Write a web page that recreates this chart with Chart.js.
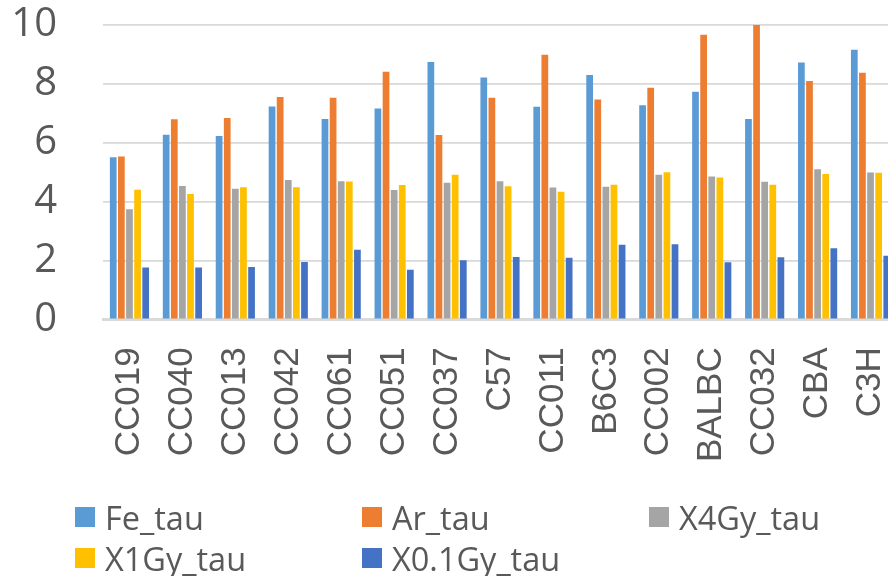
<!DOCTYPE html>
<html>
<head>
<meta charset="utf-8">
<script src="https://cdn.jsdelivr.net/npm/chart.js@4.4.0/dist/chart.umd.min.js"></script>
<style>
  html, body { margin: 0; padding: 0; overflow: hidden; background: #fff; width: 888px; height: 576px; }
  #wrap { position: absolute; left: 0; top: 0; width: 897px; height: 480px; }
  #leyenda { position: absolute; left: 0; top: 0; width: 888px; height: 576px; pointer-events: none;
             font-family: 'Open Sans', sans-serif; font-size: 32.5px; color: #595959; }
  .item { position: absolute; display: flex; align-items: center; height: 40px; white-space: nowrap; }
  .caja { width: 20px; height: 20px; margin-right: 10px; }
</style>
</head>
<body>
<div id="wrap"><canvas id="barritas" width="897" height="480"></canvas></div>
<div id="leyenda"></div>
<script>
'use strict'

const cepas = ['CC019','CC040','CC013','CC042','CC061','CC051','CC037','C57','CC011','B6C3','CC002','BALBC','CC032','CBA','C3H']
const feTau   = [5.51,6.27,6.23,7.23,6.81,7.16,8.74,8.22,7.22,8.30,7.27,7.73,6.81,8.73,9.16]
const arTau   = [5.53,6.80,6.84,7.55,7.53,8.41,6.26,7.53,8.99,7.47,7.87,9.67,10.0,8.10,8.38]
const x4GyTau = [3.74,4.53,4.44,4.73,4.69,4.39,4.64,4.69,4.48,4.50,4.91,4.85,4.67,5.10,4.99]
const x1GyTau = [4.40,4.26,4.49,4.49,4.68,4.56,4.91,4.52,4.33,4.57,5.00,4.82,4.57,4.94,4.98]
const x01GyTau= [1.76,1.76,1.78,1.95,2.36,1.68,2.01,2.12,2.09,2.53,2.55,1.94,2.11,2.41,2.16]
const yTicks = [0,2,4,6,8,10]

const series = [
  {label:'Fe_tau', data:feTau, color:'#5B9BD5'},
  {label:'Ar_tau', data:arTau, color:'#ED7D31'},
  {label:'X4Gy_tau', data:x4GyTau, color:'#A5A5A5'},
  {label:'X1Gy_tau', data:x1GyTau, color:'#FFC000'},
  {label:'X0.1Gy_tau', data:x01GyTau, color:'#4472C4'}
]

const data = {
  labels: cepas,
  datasets: series.map(s => ({
    label: s.label,
    data: s.data,
    backgroundColor: s.color,
    categoryPercentage: 0.766,
    barPercentage: 0.83
  }))
}

const config = {
  type: 'bar',
  data: data,
  options: {
    responsive: false,
    animation: false,
    layout: { padding: { top: 25, right: 0, left: 0, bottom: 0 } },
    plugins: { legend: { display: false }, tooltip: { enabled: false } },
    scales: {
      x: {
        grid: { display: false, drawTicks: false },
        border: { color: '#d9d9d9', width: 3 },
        ticks: {
          maxRotation: 90, minRotation: 90, padding: 28,
          color: '#595959',
          font: { family: "'Liberation Sans', Arial, sans-serif", size: 35 }
        },
        afterFit: function(scale){
          scale.height = 160.7
          scale.paddingLeft = 0
          scale.paddingRight = 0
        }
      },
      y: {
        min: 0, max: 10,
        afterBuildTicks: function(scale){ scale.ticks = yTicks.map(v => ({value: v})) },
        grid: { color: '#d9d9d9', lineWidth: 1.7, drawTicks: false },
        border: { display: false },
        ticks: {
          autoSkip: false,
          padding: 46,
          color: '#595959',
          font: { family: "'Open Sans', sans-serif", size: 40 }
        },
        afterFit: function(scale){
          scale.width = 103
          scale.paddingTop = 0
          scale.paddingBottom = 0
        }
      }
    }
  }
}

let barritas = new Chart(document.querySelector('#barritas'), config)

// leyenda en tres columnas como la original
const colX = [75, 362, 649]
const filaY = [497, 538]
const ley = document.querySelector('#leyenda')
series.forEach((s, i) => {
  const d = document.createElement('div')
  d.className = 'item'
  d.style.left = colX[i % 3] + 'px'
  d.style.top = filaY[Math.floor(i / 3)] + 'px'
  d.innerHTML = '<span class="caja" style="background:' + s.color + '"></span><span>' + s.label + '</span>'
  ley.appendChild(d)
})
</script>
</body>
</html>
